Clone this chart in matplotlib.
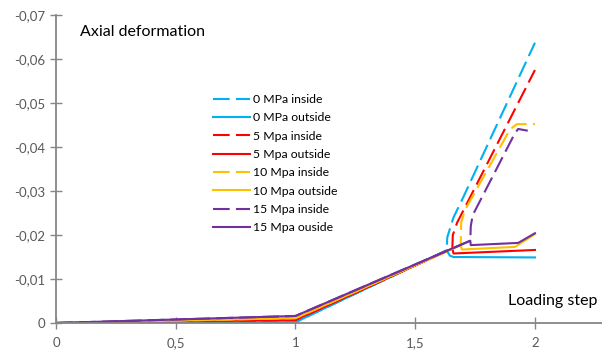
import matplotlib.pyplot as plt
from matplotlib.ticker import FuncFormatter, MultipleLocator

# loading step (x) and axial deformation (y) for each confinement level
x_0_in = [0, 1, 1.631, 1.634, 1.66, 1.70, 2.0]
y_0_in = [0, -0.0002, -0.0165, -0.0195, -0.0240, -0.0285, -0.0637]
x_0_out = [0, 1, 1.631, 1.645, 1.66, 2.0]
y_0_out = [0, -0.0002, -0.0165, -0.0153, -0.0150, -0.0149]

x_5_in = [0, 1, 1.655, 1.657, 1.675, 2.0]
y_5_in = [0, -0.0007, -0.0169, -0.0200, -0.0228, -0.0575]
x_5_out = [0, 1, 1.655, 1.66, 2.0]
y_5_out = [0, -0.0007, -0.0169, -0.0158, -0.0166]

x_10_in = [0, 1, 1.69, 1.692, 1.708, 1.896, 1.925, 2.0]
y_10_in = [0, -0.0011, -0.0177, -0.0228, -0.0257, -0.0440, -0.0452, -0.0452]
x_10_out = [0, 1, 1.69, 1.695, 1.917, 2.0]
y_10_out = [0, -0.0011, -0.0177, -0.0167, -0.0173, -0.0202]

x_15_in = [0, 1, 1.73, 1.732, 1.74, 1.916, 1.93, 1.97]
y_15_in = [0, -0.0016, -0.0187, -0.0220, -0.0245, -0.0431, -0.0441, -0.0437]
x_15_out = [0, 1, 1.73, 1.732, 1.93, 2.0]
y_15_out = [0, -0.0016, -0.0187, -0.0177, -0.0182, -0.0204]

labels = ["0 MPa inside", "0 MPa outside", "5 Mpa inside", "5 Mpa outside",
          "10 Mpa inside", "10 Mpa outside", "15 Mpa inside", "15 Mpa ouside"]
series = [(x_0_in, y_0_in), (x_0_out, y_0_out), (x_5_in, y_5_in), (x_5_out, y_5_out),
          (x_10_in, y_10_in), (x_10_out, y_10_out), (x_15_in, y_15_in), (x_15_out, y_15_out)]
colors = ["#00B0F0", "#00B0F0", "#FF0000", "#FF0000",
          "#FFC000", "#FFC000", "#7030A0", "#7030A0"]

plt.rcParams['font.family'] = ['Lato', 'DejaVu Sans']

fig = plt.figure(figsize=(6.02, 3.58), dpi=100)
ax = fig.add_axes([56 / 602, 35 / 358, 546 / 602, 308 / 358])

# even entries are the "inside" gauges (dashed), odd ones "outside" (solid)
for i, ((xs, ys), lab, c) in enumerate(zip(series, labels, colors)):
    if i % 2 == 0:
        ax.plot(xs, ys, color=c, lw=1.5, dashes=(8, 3), label=lab)
    else:
        ax.plot(xs, ys, color=c, lw=1.5, label=lab)

ax.set_xlim(0, 2.28)
ax.set_ylim(0, -0.07)
ax.xaxis.set_major_locator(MultipleLocator(0.5))
ax.yaxis.set_major_locator(MultipleLocator(0.01))


def comma_fmt(v, pos):
    if abs(v) < 1e-9:
        return "0"
    return ("%g" % round(v, 4)).replace(".", ",")


ax.xaxis.set_major_formatter(FuncFormatter(comma_fmt))
ax.yaxis.set_major_formatter(FuncFormatter(comma_fmt))

for side in ["top", "right"]:
    ax.spines[side].set_visible(False)
for side in ["left", "bottom"]:
    ax.spines[side].set_color("#868686")
    ax.spines[side].set_linewidth(1.3)
ax.tick_params(direction="inout", length=8, width=1, color="#868686",
               labelcolor="#595959", labelsize=9.5)
ax.tick_params(axis="x", pad=6)
ax.tick_params(axis="y", pad=4)

fig.text(80 / 602, 1 - 32 / 358, "Axial deformation", fontsize=11.5, color="black", va="center")
fig.text(597 / 602, 1 - 301 / 358, "Loading step", fontsize=11.5, color="black", va="center", ha="right")

ax.legend(loc="upper left", bbox_to_anchor=(213 / 602, 1 - 94 / 358),
          bbox_transform=fig.transFigure, frameon=False, fontsize=8.8,
          handlelength=3.0, handletextpad=0.3, labelspacing=0.6,
          borderaxespad=0, borderpad=0)

fig.savefig("out.png", dpi=100)
